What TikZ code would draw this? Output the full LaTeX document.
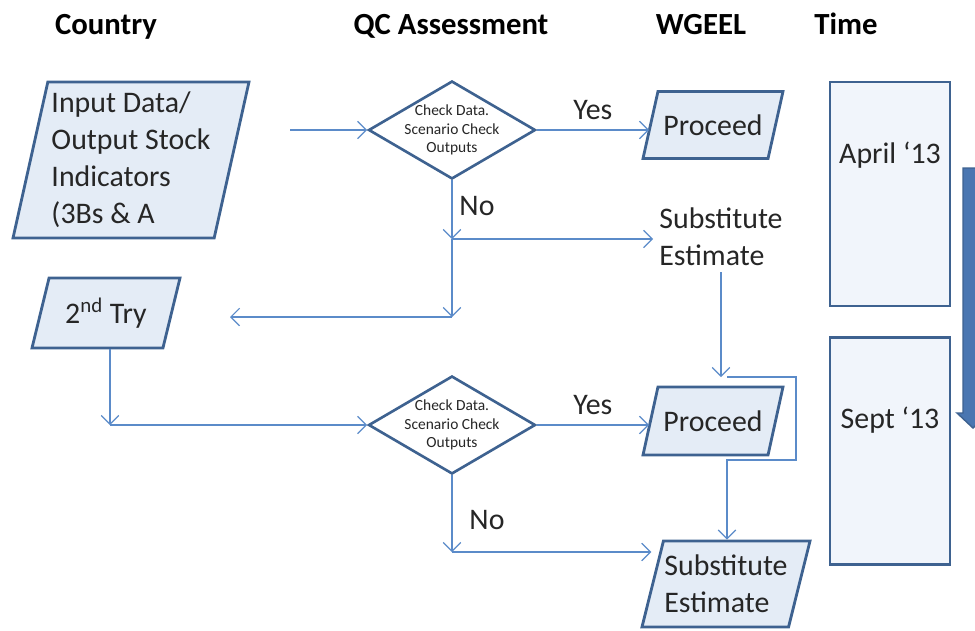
\documentclass[tikz,border=0pt]{standalone}
\usepackage{fontspec}
\setmainfont{Carlito}
\usepackage{xcolor}
\usepackage{tikz}
\usetikzlibrary{shapes,arrows.meta,positioning,calc}

\definecolor{edgeblue}{HTML}{3E6290}
\definecolor{fillblue}{HTML}{E4ECF6}
\definecolor{paleblue}{HTML}{F1F5FB}
\definecolor{lineblue}{HTML}{5B8BC9}
\definecolor{barblue}{HTML}{4A76B1}

\tikzset{
  databox/.style={trapezium, trapezium left angle=76, trapezium right angle=104,
    trapezium stretches body, draw=edgeblue, fill=fillblue, line width=1.6pt,
    inner xsep=0pt, inner ysep=0pt, font=\fontsize{17}{21}\selectfont, text=black!85},
  decision/.style={diamond, draw=edgeblue, fill=white, line width=1.5pt,
    inner sep=0pt, minimum width=3.34cm, minimum height=1.96cm},
  timebox/.style={rectangle, draw=edgeblue, fill=paleblue, line width=1.4pt,
    minimum width=2.4cm},
  flow/.style={draw=lineblue, line width=0.7pt, -{Straight Barb[length=5pt,width=10pt]}},
  head/.style={font=\bfseries\fontsize{17.5}{21}\selectfont},
  txt/.style={font=\fontsize{17}{21}\selectfont, text=black!85},
  tinytxt/.style={font=\fontsize{8.8}{10.5}\selectfont, align=center, text=black!85},
}

\begin{document}
\begin{tikzpicture}[x=0.02cm, y=-0.02cm]
    \useasboundingbox (0,0) rectangle (975,630);
    % 标题
    \node[head] (hcountry) at (106,27) {Country};
    \node[head] (hqc) at (451,26) {QC Assessment};
    \node[head] (hwgeel) at (701,25) {WGEEL};
    \node[head] (htime) at (846,24) {Time};
    % 国家
    \node[databox, align=left, inner ysep=0.04cm, minimum width=4.72cm, minimum height=3.12cm] (input) at (131,160)
      {Input Data/\\Output Stock\\Indicators\\(3Bs \& A};
    \node[databox, inner ysep=0.38cm, minimum width=2.96cm, minimum height=1.4cm] (try) at (106,313) {2\textsuperscript{nd} Try};
    % 判断
    \node[decision] (qc1) at (452,130) {};
    \node[tinytxt] (qc1txt) at (qc1) {Check Data.\\Scenario Check\\Outputs};
    \node[decision] (qc2) at (452,425) {};
    \node[tinytxt] (qc2txt) at (qc2) {Check Data.\\Scenario Check\\Outputs};
    % WGEEL
    \node[databox, inner ysep=0.39cm, minimum width=2.8cm, minimum height=1.34cm] (proc1) at (713,125) {Proceed};
    \node[txt, align=left] (subst1) at (721,237) {Substitute\\Estimate};
    \node[databox, inner ysep=0.39cm, minimum width=2.8cm, minimum height=1.36cm] (proc2) at (713,421) {Proceed};
    \node[databox, align=left, inner ysep=0.28cm, minimum width=3.36cm, minimum height=1.68cm] (subst2) at (726,584)
      {Substitute\\Estimate};
    % 时间
    \node[timebox, minimum height=4.48cm] (apr) at (890,194) {};
    \node[txt] (aprtxt) at ($(apr.north)+(0,74)$) {April ‘13};
    \node[timebox, minimum height=4.54cm] (sep) at (890,451) {};
    \node[txt] (septxt) at ($(sep.north)+(0,84)$) {Sept ‘13};
    \filldraw[fill=barblue, draw=edgeblue, line width=0.8pt]
      (963,168) -- (983,168) -- (983,413) -- (989,413) -- (973,428) -- (957,413) -- (963,413) -- cycle;
    % 连线
    \coordinate (instart) at (290,130);
    \coordinate (j1) at (452,239);
    \coordinate (j2) at (452,317);
    \coordinate (back) at (230,317);
    \coordinate (j3) at (110,425);
    \coordinate (j4) at (452,552);
    \coordinate (s1end) at (721,377);
    \coordinate (b1) at (727,377);
    \coordinate (b2) at (796,460);
    \draw[flow] (instart) -- (qc1.west);
    \draw[flow] (qc1.east) -- (qc1.east -| proc1.west) node[txt, midway, above=2pt] (yes1) {Yes};
    \draw[flow] (qc1.south) -- (j1);
    \draw[flow] (j1) -- (j1 -| subst1.west);
    \draw[flow] (j1) -- (j2);
    \draw[flow] (j2) -- (back);
    \node[txt] (no1) at (477,206) {No};
    \draw[flow] (try.south -| j3) -- (j3);
    \draw[flow] (j3) -- (qc2.west);
    \draw[flow] (qc2.east) -- (qc2.east -| proc2.west) node[txt, midway, above=2pt] (yes2) {Yes};
    \draw[flow] (qc2.south) -- (j4);
    \draw[flow] (j4) -- (j4 -| subst2.west);
    \node[txt] (no2) at (487,520) {No};
    \draw[flow] (subst1.south) -- (s1end);
    \draw[flow] (b1) -| (b2) -- (b2 -| b1) -- (b1 |- subst2.north);
\end{tikzpicture}
\end{document}
